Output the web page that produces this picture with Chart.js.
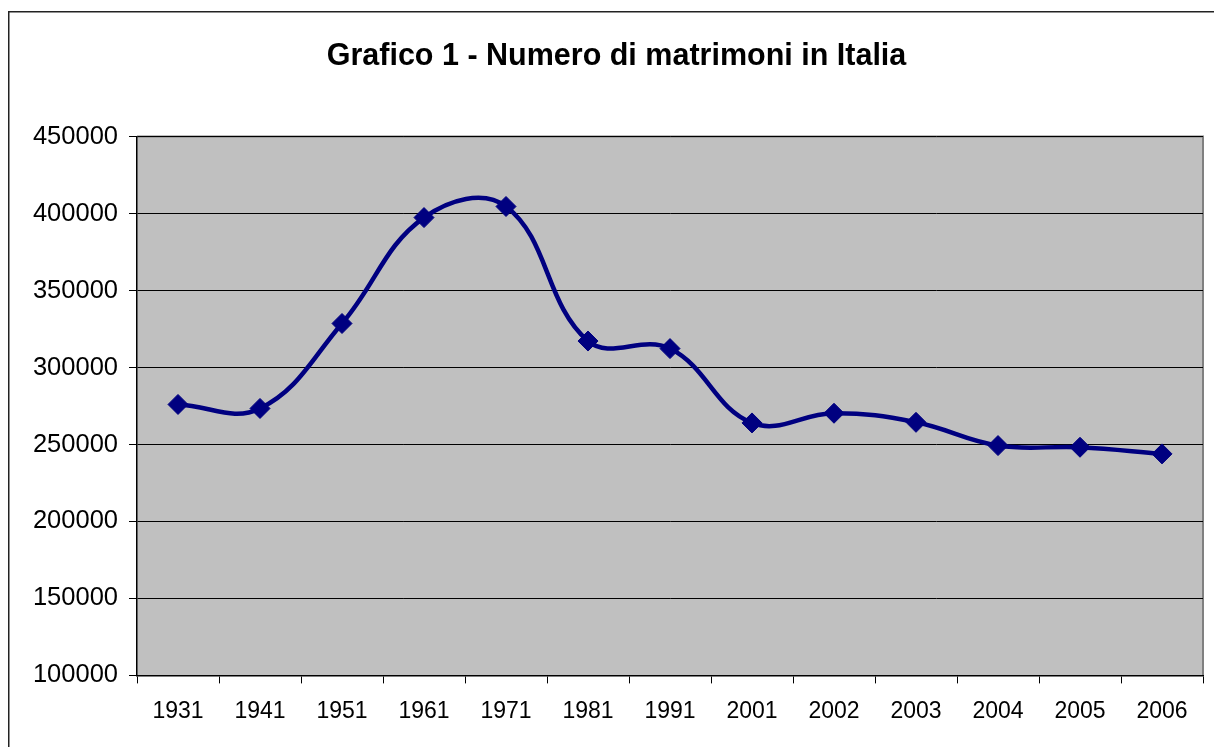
<!DOCTYPE html>
<html>
<head>
<meta charset="utf-8">
<script src="https://cdn.jsdelivr.net/npm/chart.js@4"></script>
<style>
  body { margin: 0; background: #fff; }
</style>
</head>
<body>
<canvas id="lineChart" width="1214" height="747"></canvas>
<script>
const years = ['1931','1941','1951','1961','1971','1981','1991','2001','2002','2003','2004','2005','2006'];
const matrimoni = [276000, 273400, 328600, 397400, 404600, 317200, 312300, 264000, 270300, 264400, 249300, 248200, 243900];
const yTicks = [100000, 150000, 200000, 250000, 300000, 350000, 400000, 450000];
const chartTitle = 'Grafico 1 - Numero di matrimoni in Italia';

// grey plot background + outer frame, like the excel original
const frame = {
  id: 'frame',
  beforeDraw(chart) {
    const ctx = chart.ctx, a = chart.chartArea;
    ctx.save();
    ctx.fillStyle = '#fff';
    ctx.fillRect(0, 0, chart.width, chart.height);
    ctx.strokeStyle = '#222';
    ctx.lineWidth = 1.5;
    ctx.beginPath();
    ctx.moveTo(8.75, chart.height + 2);
    ctx.lineTo(8.75, 11.75);
    ctx.lineTo(chart.width + 2, 11.75);
    ctx.stroke();
    ctx.fillStyle = '#C0C0C0';
    ctx.fillRect(a.left, a.top, a.right - a.left, a.bottom - a.top);
    ctx.strokeStyle = '#808080';
    ctx.lineWidth = 2;
    ctx.beginPath();
    ctx.moveTo(a.left, a.top);
    ctx.lineTo(a.right, a.top);
    ctx.lineTo(a.right, a.bottom);
    ctx.stroke();
    ctx.restore();
  }
};

const lineChart = document.getElementById('lineChart');
new Chart(lineChart, {
  type: 'line',
  data: {
    labels: years,
    datasets: [{
      label: 'Matrimoni',
      data: matrimoni,
      borderColor: '#000080',
      backgroundColor: '#000080',
      borderWidth: 4.5,
      tension: 0.4,
      pointStyle: 'rectRot',
      pointRadius: 10,
      pointBorderWidth: 1,
      pointBackgroundColor: '#000080',
      pointBorderColor: '#000080'
    }]
  },
  options: {
    responsive: false,
    animation: false,
    devicePixelRatio: 1,
    // left padding only recentres the title; the y axis width makes up for it
    layout: { padding: { left: 30, right: 11, top: 0, bottom: 8 } },
    plugins: {
      legend: { display: false },
      tooltip: { enabled: false },
      title: {
        display: true,
        text: chartTitle,
        color: '#000',
        font: { family: "'Liberation Sans', Arial, sans-serif", size: 30.5, weight: 'bold' },
        padding: { top: 38, bottom: 62 }
      }
    },
    scales: {
      x: {
        offset: true,
        grid: { offset: true, drawOnChartArea: false, drawTicks: true, tickLength: 8, color: '#000' },
        border: { color: '#000', width: 1.5 },
        ticks: { color: '#000', padding: 14, maxRotation: 0, autoSkip: false, font: { family: "'Liberation Sans', Arial, sans-serif", size: 23 } }
      },
      y: {
        min: yTicks[0],
        max: yTicks[yTicks.length - 1],
        afterFit(scale) { scale.width = 107; },
        grid: { color: '#000', lineWidth: 1, tickLength: 8 },
        border: { color: '#000', width: 1.5 },
        ticks: {
          stepSize: yTicks[1] - yTicks[0],
          color: '#000',
          padding: 11,
          callback: v => String(v),
          font: { family: "'Liberation Sans', Arial, sans-serif", size: 25.5 }
        }
      }
    }
  },
  plugins: [frame]
});
</script>
</body>
</html>
